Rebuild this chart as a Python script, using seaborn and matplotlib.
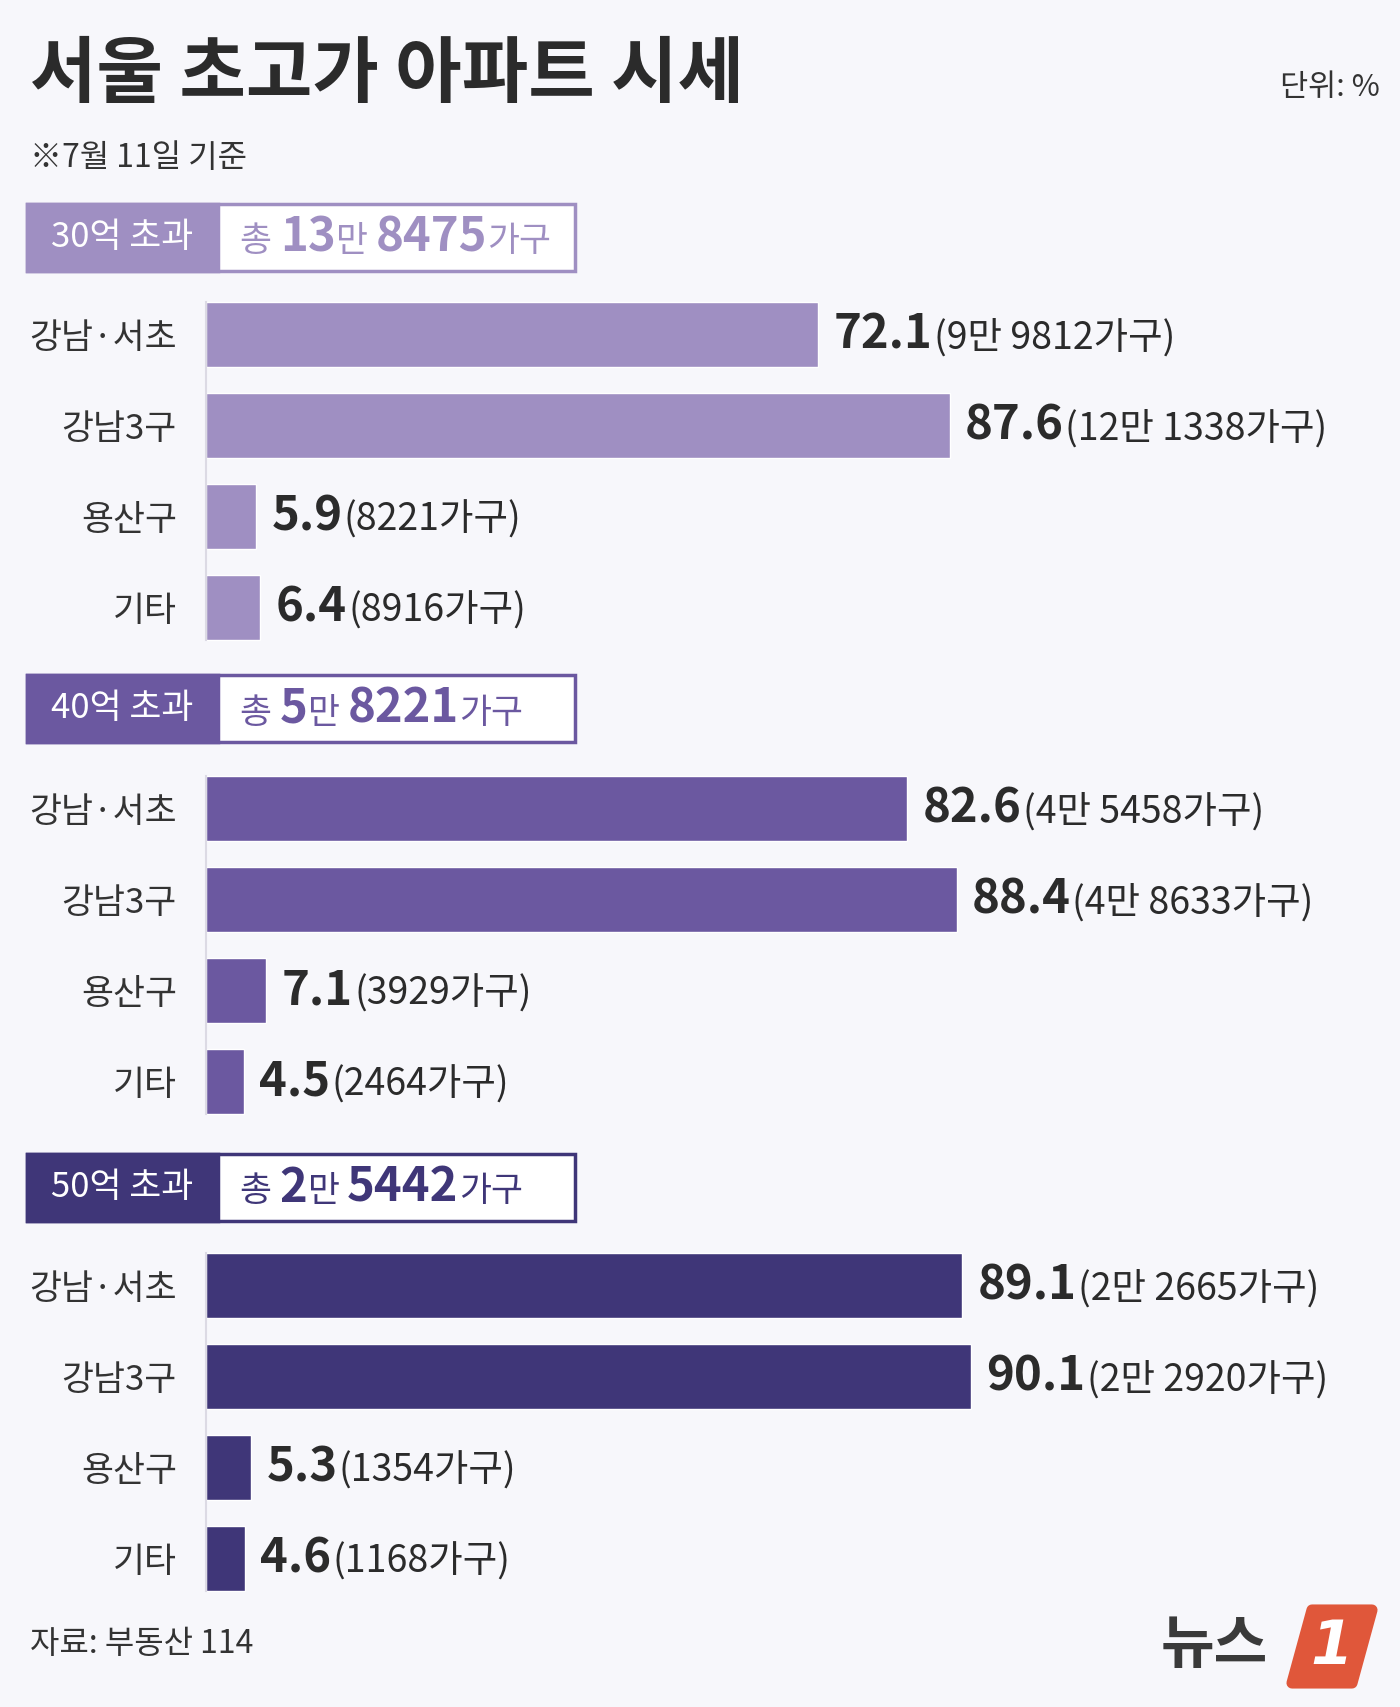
import matplotlib
matplotlib.use("Agg")
import matplotlib.pyplot as plt
import numpy as np
import pandas as pd
import seaborn as sns
from matplotlib.patches import Rectangle, Polygon
from matplotlib.offsetbox import TextArea, HPacker, AnnotationBbox

# ---- data ----
regions = ["강남·서초", "강남3구", "용산구", "기타"]
groups = ["30억 초과", "40억 초과", "50억 초과"]
share_30 = [72.1, 87.6, 5.9, 6.4]
share_40 = [82.6, 88.4, 7.1, 4.5]
share_50 = [89.1, 90.1, 5.3, 4.6]
households_30 = ["9만 9812", "12만 1338", "8221", "8916"]
households_40 = ["4만 5458", "4만 8633", "3929", "2464"]
households_50 = ["2만 2665", "2만 2920", "1354", "1168"]
total_man = ["13", "5", "2"]
total_rest = ["8475", "8221", "5442"]

colors = ["#9f8fc2", "#6b58a0", "#3f3678"]
BG = "#f7f7fb"
DARK = "#2b2b2b"
FAM = ["Noto Sans CJK KR", "DejaVu Sans"]

sns.set_theme(style="white")
plt.rcParams["font.family"] = FAM

W, H = 1400, 1707
fig = plt.figure(figsize=(W / 100, H / 100), dpi=100, facecolor=BG)

# overlay axes in pixel coordinates for titles and header boxes
bg = fig.add_axes([0, 0, 1, 1])
bg.set_xlim(0, W)
bg.set_ylim(H, 0)
bg.axis("off")
bg.patch.set_alpha(0)

bg.text(30, 76, "서울 초고가 아파트 시세", fontsize=52, fontweight="bold",
        color=DARK, va="center", ha="left")
bg.text(1380, 88, "단위: %", fontsize=22, color="#333333", va="center", ha="right")
bg.text(30, 158, "※7월 11일 기준", fontsize=23, color="#333333", va="center", ha="left")
bg.text(30, 1644, "자료: 부동산 114", fontsize=23, color="#333333", va="center", ha="left")

# logo
bg.text(1268, 1646, "뉴스", fontsize=42, fontweight="bold", color="#3a3a3a",
        va="center", ha="right")
bg.add_patch(Polygon([[1292, 1683], [1352, 1683], [1372, 1610], [1312, 1610]],
                     closed=True, facecolor="#e0573a", edgecolor="#e0573a",
                     linewidth=8, joinstyle="round"))
bg.text(1332, 1648, "1", fontsize=44, fontweight="bold", fontstyle="italic",
        color="white", va="center", ha="center", family="DejaVu Sans")

# header boxes
box_tops = [204, 675, 1154]
box_h = 67
for g, top, c, man, rest in zip(groups, box_tops, colors, total_man, total_rest):
    bg.add_patch(Rectangle((27, top), 548, box_h, facecolor="white",
                           edgecolor=c, linewidth=2.5))
    bg.add_patch(Rectangle((27, top), 191, box_h, facecolor=c, edgecolor=c, linewidth=2.5))
    yc = top + box_h / 2
    bg.text(122, yc, g, fontsize=25, color="white", va="center", ha="center")
    pieces = [("총 ", 25, "normal"), (man, 34, "bold"), ("만 ", 25, "normal"),
              (rest, 34, "bold"), ("가구", 25, "normal")]
    box = HPacker(children=[TextArea(s, textprops=dict(fontsize=fs, fontweight=fw, color=c,
                                                         family=FAM))
                            for s, fs, fw in pieces],
                  align="baseline", pad=0, sep=0)
    bg.add_artist(AnnotationBbox(box, (240, yc), xycoords="data", box_alignment=(0, 0.5),
                                 frameon=False, pad=0))

# bar sections
shares = [share_30, share_40, share_50]
households = [households_30, households_40, households_50]
ax_tops = [289, 763, 1240]
ax_h = 364
x0, x1 = 206, 1055

for top, c, vals, hh in zip(ax_tops, colors, shares, households):
    ax = fig.add_axes([x0 / W, 1 - (top + ax_h) / H, (x1 - x0) / W, ax_h / H])
    ax.patch.set_alpha(0)
    df = pd.DataFrame({"region": regions, "share": vals})
    sns.barplot(data=df, x="share", y="region", orient="h", color=c, saturation=1,
                width=0.715, ax=ax)
    ax.set_xlim(0, 100)
    ax.set_ylim(3.5, -0.5)
    ax.set_xlabel("")
    ax.set_ylabel("")
    ax.set_xticks([])
    ax.tick_params(axis="y", length=0, pad=21, labelsize=25, labelcolor="#333333")
    for s in ["top", "right", "bottom"]:
        ax.spines[s].set_visible(False)
    ax.spines["left"].set_color("#dcdae4")
    ax.spines["left"].set_linewidth(1.5)
    ax.spines["left"].set_bounds(-0.36, 3.36)
    for i, (v, h) in enumerate(zip(vals, hh)):
        lab = HPacker(children=[
            TextArea(f"{v:.1f}", textprops=dict(fontsize=34, fontweight="bold", color=DARK,
                                                 family=FAM)),
            TextArea(f"({h}가구)", textprops=dict(fontsize=27, color=DARK, family=FAM)),
        ], align="baseline", pad=0, sep=1)
        ax.add_artist(AnnotationBbox(lab, (v, i), xybox=(11, 0), xycoords="data",
                                     boxcoords="offset points", box_alignment=(0, 0.5),
                                     frameon=False, pad=0, annotation_clip=False))

fig.savefig("out.png", dpi=100, facecolor=BG)
